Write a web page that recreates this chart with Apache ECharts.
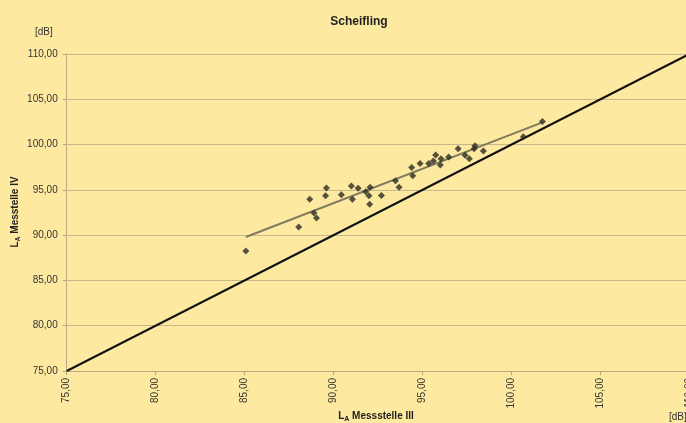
<!DOCTYPE html>
<html>
<head>
<meta charset="utf-8">
<script src="https://cdn.jsdelivr.net/npm/echarts@6/dist/echarts.min.js"></script>
<style>
html,body{margin:0;padding:0;background:#FEE9A1;overflow:hidden;width:686px;height:423px;}
#c{width:700px;height:423px;}
</style>
</head>
<body>
<div id="c"></div>
<script>
const titleText = 'Scheifling';
const pointsX = [85.07, 88.04, 88.66, 88.9, 89.04, 89.55, 89.6, 90.44, 91.0, 91.06, 91.38, 91.81, 91.99, 92.05, 92.03, 92.69, 93.48, 93.68, 94.39, 94.45, 94.86, 95.35, 95.61, 95.74, 96.0, 96.04, 96.47, 97.0, 97.39, 97.63, 97.95, 97.9, 98.42, 100.67, 101.74];
const pointsY = [88.25, 90.9, 93.95, 92.44, 91.89, 94.35, 95.2, 94.46, 95.42, 93.95, 95.17, 94.79, 94.35, 95.28, 93.4, 94.39, 96.0, 95.28, 97.48, 96.56, 97.92, 97.92, 98.18, 98.84, 97.74, 98.43, 98.62, 99.54, 98.81, 98.43, 99.87, 99.54, 99.28, 100.86, 102.56];
const trendX = [85.07, 101.74];
const trendY = [89.8, 102.45];
const diagX = [75, 110];
const diagY = [75, 110];
const axisMin = 75, axisMax = 110, axisStep = 5;

const chart = echarts.init(document.getElementById('c'));
const fmt = v => v.toFixed(2).replace('.', ',');
const font = 'Liberation Sans, Arial, sans-serif';
chart.setOption({
  backgroundColor: '#FEE9A1',
  animation: false,
  title: {
    text: titleText, left: 354, top: 11, textAlign: 'center',
    textStyle: {fontFamily: font, fontSize: 12, fontWeight: 'bold', color: '#222'}
  },
  grid: {left: 66.7, right: 10.6, top: 54, bottom: 52},
  xAxis: {
    type: 'value', min: axisMin, max: axisMax, interval: axisStep,
    axisLine: {lineStyle: {color: '#b8aa80'}},
    axisTick: {show: true, length: 4, lineStyle: {color: '#b8aa80'}},
    splitLine: {show: false},
    axisLabel: {rotate: 90, formatter: fmt, fontFamily: font, fontSize: 10, color: '#333', margin: 7}
  },
  yAxis: {
    type: 'value', min: axisMin, max: axisMax, interval: axisStep,
    axisLine: {show: true, lineStyle: {color: '#b8aa80'}},
    axisTick: {show: true, length: 4, lineStyle: {color: '#b8aa80'}},
    splitLine: {show: true, lineStyle: {color: '#c6b78c', width: 1}},
    axisLabel: {formatter: fmt, fontFamily: font, fontSize: 10, color: '#333', margin: 9}
  },
  graphic: [
    {type: 'text', left: 35, top: 27, style: {text: '[dB]', font: '10px ' + font, fill: '#333'}},
    {type: 'text', left: 669, top: 412, style: {text: '[dB]', font: '10px ' + font, fill: '#333'}},
    {type: 'text', x: 376, y: 416, style: {
      text: '{b|L}{s|A}{b| Messstelle III}', align: 'center', verticalAlign: 'middle',
      rich: {b: {font: 'bold 10px ' + font, fill: '#222'}, s: {font: 'bold 7px ' + font, fill: '#222', padding: [6, 0, 0, 0]}}
    }},
    {type: 'text', x: 15, y: 212, rotation: Math.PI / 2, style: {
      text: '{b|L}{s|A}{b| Messtelle IV}', align: 'center', verticalAlign: 'middle',
      rich: {b: {font: 'bold 10px ' + font, fill: '#222'}, s: {font: 'bold 7px ' + font, fill: '#222', padding: [6, 0, 0, 0]}}
    }}
  ],
  series: [
    {
      type: 'line', data: diagX.map((x, i) => [x, diagY[i]]),
      symbol: 'none', lineStyle: {color: '#111', width: 2}, z: 3
    },
    {
      type: 'line', data: trendX.map((x, i) => [x, trendY[i]]),
      symbol: 'none', lineStyle: {color: '#807a5e', width: 2}, z: 4
    },
    {
      type: 'scatter', data: pointsX.map((x, i) => [x, pointsY[i]]),
      symbol: 'diamond', symbolSize: 7, itemStyle: {color: '#2b2a22'}, z: 5
    }
  ]
});
</script>
</body>
</html>
